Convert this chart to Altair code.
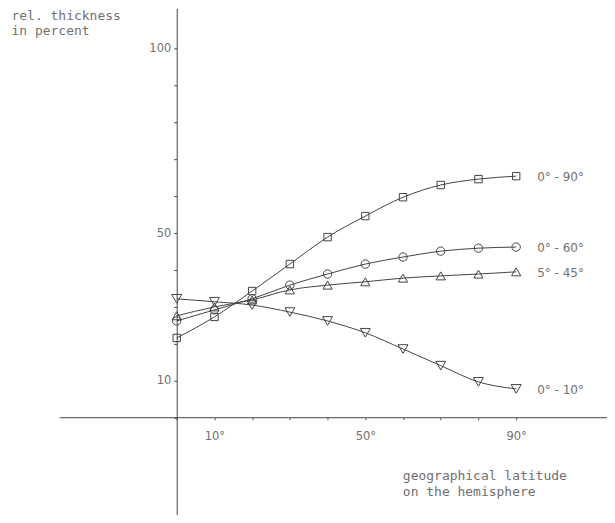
import altair as alt
import pandas as pd

# data
latitude = [0, 10, 20, 30, 40, 50, 60, 70, 80, 90]
band_0_90 = [21.6, 27.3, 34.3, 41.6, 48.9, 54.6, 59.7, 63.0, 64.6, 65.4]
band_0_60 = [26.2, 29.2, 32.2, 35.9, 38.9, 41.6, 43.5, 45.1, 45.9, 46.2]
band_5_45 = [27.6, 30.0, 31.9, 34.6, 35.9, 36.8, 37.8, 38.4, 38.9, 39.5]
band_0_10 = [32.2, 31.4, 30.5, 28.6, 26.2, 23.0, 18.6, 14.1, 9.7, 7.8]
series_names = ["0° - 90°", "0° - 60°", "5° - 45°", "0° - 10°"]
series_shapes = ["square", "circle", "triangle-up", "triangle-down"]
series_sizes = [55, 100, 32, 32]
x_tick_values = [0, 10, 20, 30, 40, 50, 60, 70, 80, 90]
x_labelled = [10, 50, 90]
y_tick_values = [0, 10, 20, 30, 40, 50, 60, 70, 80, 90, 100]
y_labelled = [10, 50, 100]

rows = []
for name, vals in zip(series_names, [band_0_90, band_0_60, band_5_45, band_0_10]):
    for lat, v in zip(latitude, vals):
        rows.append({"series": name, "lat": lat, "val": v})
df = pd.DataFrame(rows)
last = df[df["lat"] == 90]

W, H = 600, 507
X_DOMAIN = [-44.73, 114.08]
Y_DOMAIN = [-26.22, 110.81]
INK = "#444444"
TXT = "#707070"

xs = alt.Scale(domain=X_DOMAIN, nice=False, zero=False)
ys = alt.Scale(domain=Y_DOMAIN, nice=False, zero=False)

x_lab = " || ".join(f"datum.value == {v}" for v in x_labelled)
y_lab = " || ".join(f"datum.value == {v}" for v in y_labelled)

x_axis = alt.Axis(
    values=x_tick_values, offset=-97, domain=False, grid=False,
    tickSize=2, tickColor=INK, labelPadding=11,
    labelExpr=f"({x_lab}) ? datum.label + '°' : ''",
    labelFont="DejaVu Sans", labelFontSize=11.5, labelColor=TXT,
    title=["geographical latitude", "on the hemisphere"],
    titleX=395, titleY=52, titleAlign="left", titleBaseline="top",
    titleFont="DejaVu Sans Mono", titleFontSize=13, titleFontWeight="normal",
    titleColor=TXT, titleLineHeight=16,
)
y_axis = alt.Axis(
    values=y_tick_values, offset=-169, domain=True, domainColor=INK, grid=False,
    tickSize=3, tickColor=INK, labelPadding=3,
    labelExpr=f"({y_lab}) ? datum.label : ''",
    labelFont="DejaVu Sans", labelFontSize=11.5, labelColor=TXT,
    title=["rel. thickness", "in percent"],
    titleAngle=0, titleX=-166, titleY=1, titleAlign="left", titleBaseline="top",
    titleFont="DejaVu Sans Mono", titleFontSize=13, titleFontWeight="normal",
    titleColor=TXT, titleLineHeight=15,
)

base = alt.Chart(df)

lines = base.mark_line(interpolate="monotone", color=INK, strokeWidth=1).encode(
    x=alt.X("lat:Q", scale=xs, axis=x_axis),
    y=alt.Y("val:Q", scale=ys, axis=y_axis),
    detail="series:N",
)

points = base.mark_point(filled=False, color=INK, strokeWidth=1, opacity=1).encode(
    x=alt.X("lat:Q", scale=xs),
    y=alt.Y("val:Q", scale=ys),
    shape=alt.Shape("series:N", scale=alt.Scale(domain=series_names, range=series_shapes), legend=None),
    size=alt.Size("series:N", scale=alt.Scale(domain=series_names, range=series_sizes), legend=None),
)

labels = alt.Chart(last).mark_text(
    align="left", baseline="middle", dx=21, dy=1,
    font="DejaVu Sans", fontSize=12, color=TXT,
).encode(
    x=alt.X("lat:Q", scale=xs),
    y=alt.Y("val:Q", scale=ys),
    text="series:N",
)

axis_line_df = pd.DataFrame({"x": [-31.0], "x2": [X_DOMAIN[1]], "y": [0.0]})
x_line = alt.Chart(axis_line_df).mark_rule(color=INK, strokeWidth=1).encode(
    x=alt.X("x:Q", scale=xs),
    x2="x2:Q",
    y=alt.Y("y:Q", scale=ys),
)

chart = alt.layer(x_line, lines, points, labels).properties(
    width=W, height=H,
    autosize=alt.AutoSizeParams(type="none"),
    padding=0,
).configure(background="white").configure_view(stroke="transparent", strokeWidth=0)

chart.save("out.html", embed_options={"renderer": "svg", "actions": False})
